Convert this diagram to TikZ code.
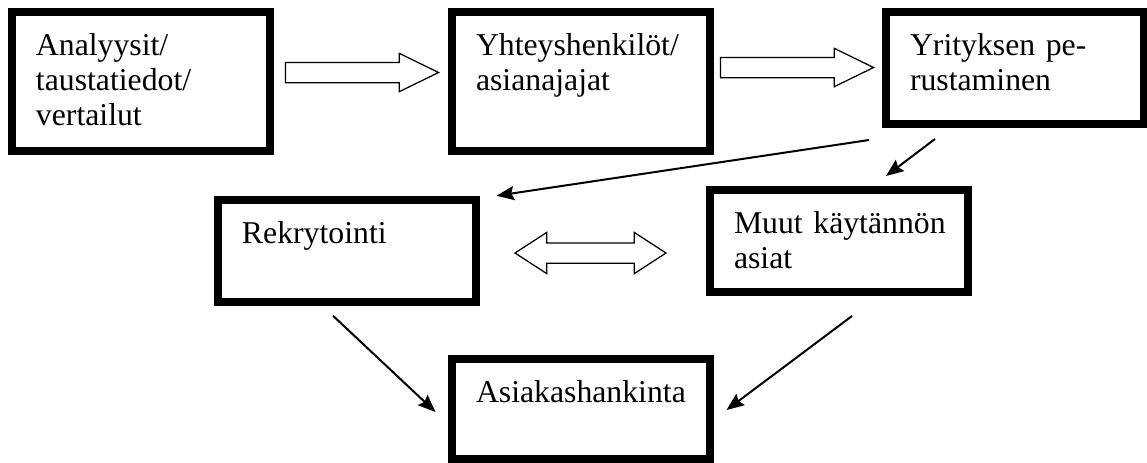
\documentclass[tikz,border=0pt]{standalone}
\usepackage{fontspec}
\setmainfont{Liberation Serif}
\usetikzlibrary{arrows.meta, shapes.arrows}

\begin{document}
\begin{tikzpicture}[x = 0.4pt, y = -0.4pt, % one unit is one pixel, y downwards
                >= {Stealth[length = 7pt, width = 5.6pt, inset = 1pt]}, % arrow head style
                line width = 0.8pt % line style
            ]

            \tikzstyle{every node}=[font = \fontsize{12.7pt}{14pt}\selectfont]
            \tikzstyle{stage}=[draw = black, rectangle, line width = 3.2pt,
            inner xsep = 9.6pt, inner ysep = 0pt, text width = 84pt,
            text height = 17.2pt, align = left]
            \tikzstyle{fat}=[draw = black, single arrow, line width = 0.5pt,
            inner xsep = 0pt, inner ysep = 3.8pt, minimum height = 61.2pt,
            single arrow head extend = 3.6pt, single arrow tip angle = 52,
            anchor = tip]
            \tikzstyle{twoway}=[draw = black, double arrow, line width = 0.5pt,
            inner xsep = 0pt, inner ysep = 3.8pt, minimum height = 60.4pt,
            double arrow head extend = 4.2pt, double arrow tip angle = 66]

            \useasboundingbox (0,0) rectangle (1147,462);

            \node[stage, text depth = 38.4pt] (1) at (141,81.5)
            {Analyysit/\\taustatiedot/\\vertailut};
            \node[stage, text depth = 38.4pt] (2) at (581,81.5)
            {Yhteyshenkilöt/\\asianajajat};
            \node[stage, text depth = 27.6pt] (3) at (1015,68)
            {Yrityksen pe-\\rustaminen};
            \node[stage, text depth = 23.4pt] (4) at (347,251)
            {Rekrytointi};
            \node[stage, text depth = 23.6pt] (5) at (839,241)
            {\mbox{Muut käytännön}\\asiat};
            \node[stage, text depth = 22.6pt] (6) at (581,409)
            {Asiakashankinta};

            \node[fat] (12) at (440,72.5) {}; \node[fat] (23) at
            (875,67.5) {}; \node[twoway] (45) at (590.5,253) {};

            \path[->] ([shift={(-13,12)}]3.south west) edge
            ([shift={(16.5,-0.5)}]4.north east); \path[->]
            ([shift={(-80,11)}]3.south) edge ([shift={(47,-10)}]5.north);
            \path[->] ([shift={(-14,10)}]4.south) edge
            ([shift={(-12.5,3)}]6.west); \path[->] ([shift={(13,20)}]5.south)
            edge ([shift={(12.5,1)}]6.east); \end{tikzpicture}
\end{document}
